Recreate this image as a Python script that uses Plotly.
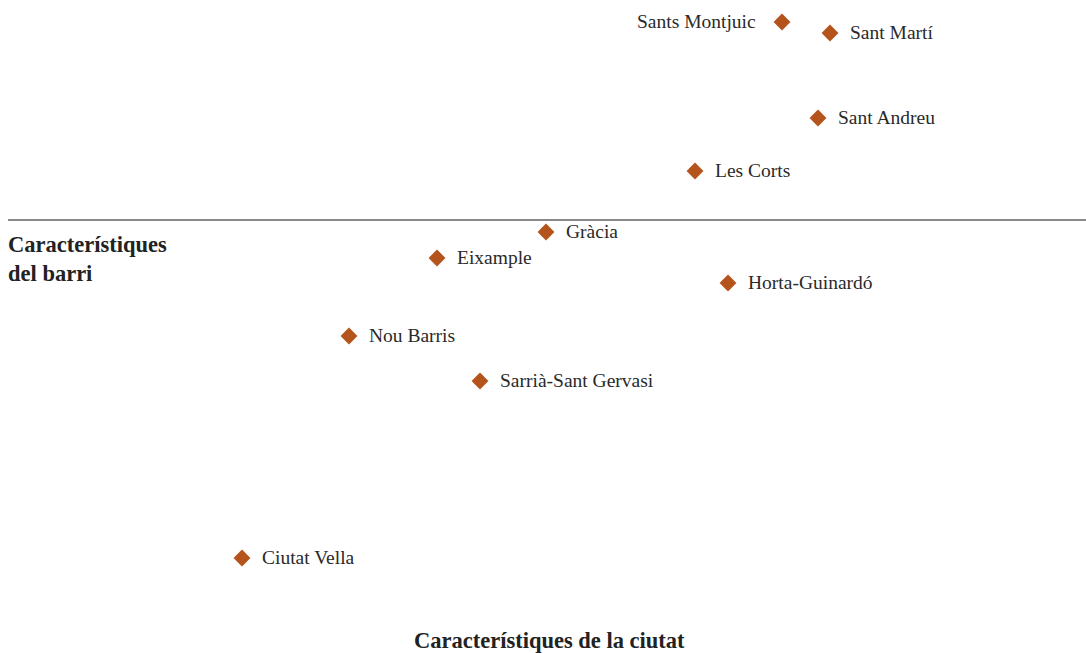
import plotly.graph_objects as go

districts = ["Sants Montjuic", "Sant Martí", "Sant Andreu", "Les Corts", "Gràcia",
             "Eixample", "Horta-Guinardó", "Nou Barris", "Sarrià-Sant Gervasi", "Ciutat Vella"]
ciutat = [782, 830, 818, 695, 546, 437, 728, 349, 480, 242]
barri = [198, 187, 102, 49, -12, -38, -63, -116, -161, -338]
label_side = ["left", "right", "right", "right", "right", "right", "right", "right", "right", "right"]

x_title = "Característiques de la ciutat"
y_title = "Característiques<br>del barri"

FONT = "Liberation Serif"
MARK = "#b5531c"

fig = go.Figure()
fig.add_trace(go.Scatter(
    x=ciutat, y=barri, mode="markers",
    marker=dict(symbol="diamond", size=13, color=MARK, line=dict(width=0)),
    hoverinfo="text", text=districts, showlegend=False,
))

for name, xv, yv, side in zip(districts, ciutat, barri, label_side):
    fig.add_annotation(
        x=xv, y=yv, text=name, showarrow=False,
        xanchor="left" if side == "right" else "right", yanchor="middle",
        xshift=18 if side == "right" else -24, yshift=1,
        font=dict(family=FONT, size=19.5, color="#2a2a2a"),
    )

fig.add_shape(type="line", x0=8, x1=1086, y0=0, y1=0, xref="x", yref="y",
              line=dict(color="#8a8a8a", width=2))

fig.add_annotation(x=6, y=-10, xref="x", yref="y", text="<b>" + y_title + "</b>",
                   showarrow=False, xanchor="left", yanchor="top", align="left",
                   font=dict(family=FONT, size=22.5, color="#222222"))
fig.add_annotation(x=549, y=-420, xref="x", yref="y", text="<b>" + x_title + "</b>",
                   showarrow=False, xanchor="center", yanchor="middle",
                   font=dict(family=FONT, size=22.5, color="#222222"))

fig.update_layout(
    width=1086, height=653,
    margin=dict(l=0, r=0, t=0, b=0),
    paper_bgcolor="white", plot_bgcolor="white",
    xaxis=dict(range=[0, 1086], visible=False, fixedrange=True),
    yaxis=dict(range=[-433, 220], visible=False, fixedrange=True),
)
fig.write_html("out.html", config={"displayModeBar": False},
               post_script="document.body.style.margin='0';")
